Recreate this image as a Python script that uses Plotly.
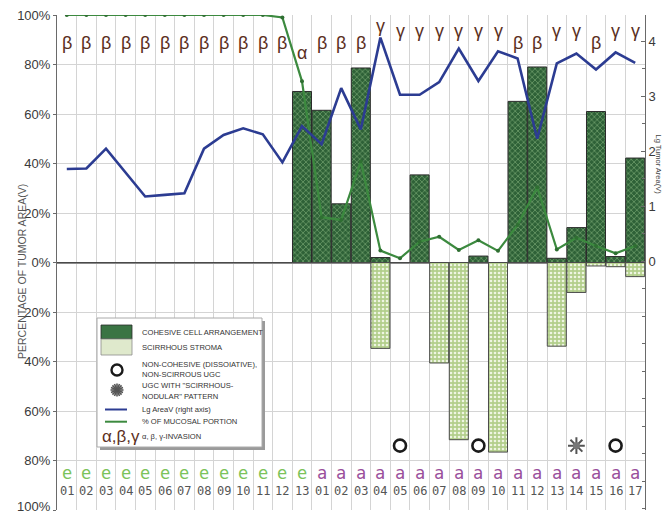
import math
import plotly.graph_objects as go

# ---- data -------------------------------------------------------------
cases = ["e01", "e02", "e03", "e04", "e05", "e06", "e07", "e08", "e09", "e10",
         "e11", "e12", "e13",
         "a01", "a02", "a03", "a04", "a05", "a06", "a07", "a08", "a09", "a10",
         "a11", "a12", "a13", "a14", "a15", "a16", "a17"]
group_letter = ["e"] * 13 + ["a"] * 17
case_number = ["01", "02", "03", "04", "05", "06", "07", "08", "09", "10", "11", "12", "13",
               "01", "02", "03", "04", "05", "06", "07", "08", "09", "10", "11", "12", "13",
               "14", "15", "16", "17"]

# % of tumor area with cohesive cell arrangement (upwards)
cohesive = [0, 0, 0, 0, 0, 0, 0, 0, 0, 0, 0, 0, 69.1,
            61.5, 23.7, 78.6, 2.0, 0, 35.4, 0, 0, 2.6, 0,
            65.1, 79.0, 1.7, 14.1, 61.0, 2.4, 42.2]
# % of tumor area with scirrhous stroma (drawn downwards)
scirrhous = [0, 0, 0, 0, 0, 0, 0, 0, 0, 0, 0, 0, 0,
             0, 0, 0, 34.7, 0, 0, 40.6, 71.6, 0, 76.6,
             0, 0, 33.8, 12.1, 1.4, 1.7, 5.7]
# log10 of tumor area (right axis)
lg_area = [1.68, 1.69, 2.05, 1.62, 1.18, 1.21, 1.24, 2.05, 2.30, 2.42, 2.31, 1.80, 2.46,
           2.13, 3.15, 2.40, 4.07, 3.03, 3.03, 3.26, 3.87, 3.28, 3.82,
           3.69, 2.23, 3.60, 3.78, 3.49, 3.80, 3.61]
# % of mucosal portion
mucosal = [100, 100, 100, 100, 100, 100, 100, 100, 100, 100, 100, 99, 73.2,
           18.3, 17.2, 40.8, 4.8, 1.7, 8.4, 10.4, 5.1, 9.0, 4.7,
           15.2, 30.4, 5.3, 10.0, 6.7, 3.7, 6.7]
# depth of invasion per case
invasion = ["β", "β", "β", "β", "β", "β", "β", "β", "β", "β", "β", "β", "α",
            "β", "β", "β", "γ", "γ", "γ", "γ", "γ", "γ", "γ",
            "β", "β", "γ", "γ", "β", "γ", "γ"]
non_cohesive_cases = ["a05", "a09", "a16"]
nodular_cases = ["a14"]

y_ticks = [-100, -80, -60, -40, -20, 0, 20, 40, 60, 80, 100]
y_tick_text = ["", "80%", "60%", "40%", "20%", "0%", "20%", "40%", "60%", "80%", "100%"]
right_ticks = [0, 1, 2, 3, 4]

# ---- styling ----------------------------------------------------------
W, H = 662, 515
M_L, M_R, M_T, M_B = 57, 17, 15, 5
FONT = "Liberation Sans, Arial, sans-serif"
MONO = "DejaVu Sans Mono, monospace"
BROWN = "#5b2f1e"
DARK_GREEN = "#2f6238"
LINE_GREEN = "#3c8a3f"
BLUE = "#2c3c92"
GRID = "#d4d4d4"
MARK_ROW = -74


def px_x(px):
    return (px - M_L) / (W - M_L - M_R)


def px_y(py):
    return (H - M_B - py) / (H - M_T - M_B)


fig = go.Figure()

fig.add_trace(go.Bar(
    x=cases, y=cohesive, name="COHESIVE CELL ARRANGEMENT",
    marker=dict(color=DARK_GREEN,
                line=dict(color="#2b2b2b", width=1),
                pattern=dict(shape="x", fgcolor="#7fae78", bgcolor="#2e6137",
                             size=4, solidity=0.28, fillmode="replace")),
))
fig.add_trace(go.Bar(
    x=cases, y=[-v for v in scirrhous], name="SCIRRHOUS STROMA",
    marker=dict(color="#b9d394",
                line=dict(color="#4a4a4a", width=1),
                pattern=dict(shape=".", fgcolor="#eef5e2", bgcolor="#b3cf8c",
                             size=4, solidity=0.35, fillmode="replace")),
))

fig.add_trace(go.Scatter(
    x=cases, y=mucosal, mode="lines+markers", name="% OF MUCOSAL PORTION",
    line=dict(color=LINE_GREEN, width=2.2),
    marker=dict(size=4, color="#2f6f32"),
))
fig.add_trace(go.Scatter(
    x=cases, y=lg_area, yaxis="y2", mode="lines", name="Lg AreaV (right axis)",
    line=dict(color=BLUE, width=2.6),
))

fig.add_trace(go.Scatter(
    x=non_cohesive_cases, y=[MARK_ROW] * len(non_cohesive_cases), mode="markers",
    marker=dict(symbol="circle-open", size=12, color="#1a1a1a", line=dict(width=2.6)),
))
fig.add_trace(go.Scatter(
    x=nodular_cases, y=[MARK_ROW] * len(nodular_cases), mode="markers",
    marker=dict(symbol="asterisk-open", size=14, color="#555555", line=dict(width=2)),
))
fig.add_trace(go.Scatter(
    x=nodular_cases, y=[MARK_ROW] * len(nodular_cases), mode="markers",
    marker=dict(symbol="circle", size=7, color="#777777"),
))

annotations = []

# invasion depth letters along the top
for c, g in zip(cases, invasion):
    level = {"β": 88.5, "α": 84.5, "γ": 93.5}[g]
    if c == "a04":
        level = 95.5
    annotations.append(dict(x=c, y=level, xref="x", yref="y", text=g, showarrow=False,
                            font=dict(family=FONT, size=18, color=BROWN)))

# case labels in the bottom band
for c, g, n in zip(cases, group_letter, case_number):
    annotations.append(dict(x=c, y=-85.2, xref="x", yref="y", text=g, showarrow=False,
                            font=dict(family=MONO, size=17,
                                      color="#7cc35b" if g == "e" else "#9a4f9c")))
    annotations.append(dict(x=c, y=-92.3, xref="x", yref="y", text=n, showarrow=False,
                            font=dict(family=MONO, size=12, color="#555555")))

# bottom end label of the left axis
annotations.append(dict(xref="paper", yref="paper", x=px_x(53), y=px_y(506),
                        xanchor="right", yanchor="middle", text="100%", showarrow=False,
                        font=dict(family=FONT, size=13, color="#3a3a3a")))

# axis titles
annotations.append(dict(xref="paper", yref="paper", x=px_x(14), y=px_y(272),
                        text="PERCENTAGE OF TUMOR AREA(V)", textangle=-90, showarrow=False,
                        font=dict(family=FONT, size=10.5, color="#555555")))
annotations.append(dict(xref="paper", yref="paper", x=px_x(651), y=px_y(165),
                        xanchor="left", yanchor="middle",
                        text="Lg Tumor Area(V)", textangle=90, showarrow=False,
                        font=dict(family=FONT, size=7.5, color="#444444")))

# legend box
shapes = [
    dict(type="rect", xref="paper", yref="paper", x0=px_x(100), x1=px_x(265),
         y0=px_y(450), y1=px_y(321), fillcolor="#9a9a9a", line=dict(width=0), layer="above"),
    dict(type="rect", xref="paper", yref="paper", x0=px_x(97), x1=px_x(262),
         y0=px_y(447), y1=px_y(318), fillcolor="white",
         line=dict(color="#aaaaaa", width=1), layer="above"),
    dict(type="rect", xref="paper", yref="paper", x0=px_x(101), x1=px_x(132),
         y0=px_y(339), y1=px_y(325), fillcolor="#3a7443",
         line=dict(color="#2b2b2b", width=0.8), layer="above"),
    dict(type="rect", xref="paper", yref="paper", x0=px_x(101), x1=px_x(132),
         y0=px_y(355), y1=px_y(339), fillcolor="#dfe9cc",
         line=dict(color="#8a8a8a", width=0.8), layer="above"),
    dict(type="line", xref="paper", yref="paper", x0=px_x(105), x1=px_x(127),
         y0=px_y(409.5), y1=px_y(409.5), line=dict(color=BLUE, width=2), layer="above"),
    dict(type="line", xref="paper", yref="paper", x0=px_x(105), x1=px_x(127),
         y0=px_y(421.7), y1=px_y(421.7), line=dict(color=LINE_GREEN, width=2), layer="above"),
    dict(type="circle", xref="paper", yref="paper", x0=px_x(111.5), x1=px_x(122.5),
         y0=px_y(375.5), y1=px_y(364.5), line=dict(color="#1a1a1a", width=2.4), layer="above"),
]
for k in range(8):
    a = math.pi * k / 8
    dx, dy = 6.5 * math.cos(a), 6.5 * math.sin(a)
    shapes.append(dict(type="line", xref="paper", yref="paper",
                       x0=px_x(117 - dx), x1=px_x(117 + dx),
                       y0=px_y(390 - dy), y1=px_y(390 + dy),
                       line=dict(color="#555555", width=1.6), layer="above"))

legend_text = [
    ("COHESIVE CELL ARRANGEMENT", 333),
    ("SCIRRHOUS STROMA", 347),
    ("NON-COHESIVE (DISSOIATIVE),", 364),
    ("NON-SCIRROUS UGC", 374.5),
    ("UGC WITH \"SCIRRHOUS-", 386),
    ("NODULAR\" PATTERN", 396),
    ("Lg AreaV (right axis)", 409.5),
    ("% OF MUCOSAL PORTION", 421.7),
    ("α, β, γ-INVASION", 437),
]
for t, py in legend_text:
    annotations.append(dict(xref="paper", yref="paper", x=px_x(139.5), y=px_y(py),
                            xanchor="left", yanchor="middle", text=t, showarrow=False,
                            font=dict(family=FONT, size=7.6, color="#333333")))
annotations.append(dict(xref="paper", yref="paper", x=px_x(121), y=px_y(436),
                        xanchor="center", yanchor="middle", text="α,β,γ", showarrow=False,
                        font=dict(family=FONT, size=17, color=BROWN)))

fig.update_layout(
    width=W, height=H,
    margin=dict(l=M_L, r=M_R, t=M_T, b=M_B),
    paper_bgcolor="white", plot_bgcolor="white",
    barmode="overlay", bargap=0.03,
    showlegend=False,
    font=dict(family=FONT, color="#333333"),
    xaxis=dict(type="category", categoryorder="array", categoryarray=cases,
               range=[-0.5, len(cases) - 0.5],
               showticklabels=False, ticks="", tickson="boundaries",
               showgrid=True, gridcolor=GRID, gridwidth=1,
               showline=False, zeroline=False, fixedrange=True, automargin=False),
    yaxis=dict(range=[-100, 100], tickvals=y_ticks, ticktext=y_tick_text,
               showgrid=True, gridcolor=GRID, gridwidth=1,
               zeroline=True, zerolinecolor="#8a8a8a", zerolinewidth=1.5,
               showline=True, linecolor="#6a6a6a", linewidth=1,
               ticks="outside", ticklen=3, tickcolor="#6a6a6a", automargin=False,
               tickfont=dict(family=FONT, size=13, color="#3a3a3a")),
    yaxis2=dict(range=[-4.52, 4.48], overlaying="y", side="right",
                tickvals=right_ticks, showgrid=False, zeroline=False,
                showline=True, linecolor="#6a6a6a", linewidth=1,
                ticks="inside", ticklen=4, tickcolor="#6a6a6a", automargin=False,
                minor=dict(dtick=0.5, ticks="inside", ticklen=3, tickcolor="#6a6a6a"),
                tickfont=dict(family=FONT, size=13, color="#3a3a3a")),
    shapes=shapes,
    annotations=annotations,
)

fig.write_html("out.html")
